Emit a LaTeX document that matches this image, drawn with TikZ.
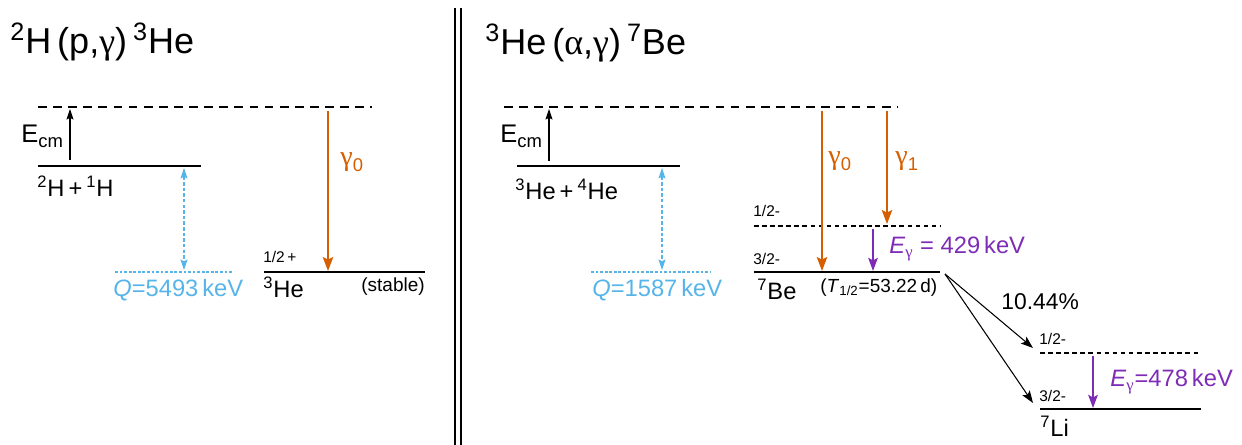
\documentclass[tikz,border=0pt]{standalone}
\usepackage{fontspec}
\setmainfont{Liberation Sans}
\newfontfamily\greekfont{Liberation Serif}
\usetikzlibrary{arrows.meta}

\definecolor{gammaorange}{RGB}{213,94,0}
\definecolor{qblue}{RGB}{86,180,233}
\definecolor{egpurple}{RGB}{126,44,182}

\newcommand{\titlesize}{\fontsize{20.5}{24}\selectfont}
\newcommand{\labsize}{\fontsize{13.5}{16}\selectfont}
\newcommand{\smallsize}{\fontsize{10.8}{13}\selectfont}
\newcommand{\spinsize}{\fontsize{8.8}{10}\selectfont}
\newcommand{\gk}[1]{{\greekfont #1}}
\newcommand{\lsub}[1]{\raisebox{-0.35ex}{\fontsize{10.5}{12}\selectfont #1}}

\tikzset{
  lab/.style={anchor=base west, inner sep=0pt, font=\labsize},
  spin/.style={anchor=base west, inner sep=0pt, font=\spinsize},
  level/.style={line width=1.2pt},
  virtlevel/.style={line width=0.7pt, dash pattern=on 5pt off 3.6pt},
  reslevel/.style={line width=0.7pt, dash pattern=on 2.6pt off 2pt},
  qlevel/.style={qblue, line width=0.8pt, dash pattern=on 1.6pt off 1pt},
  gammaarrow/.style={gammaorange, line width=0.7pt, -{Stealth[length=8pt,width=6pt,inset=1.5pt]}},
  egarrow/.style={egpurple, line width=0.7pt, -{Stealth[length=7.5pt,width=5.5pt,inset=1.5pt]}},
  qarrow/.style={qblue, line width=0.6pt, dash pattern=on 2pt off 1.2pt,
    {Stealth[length=6pt,width=4pt,inset=1pt]}-{Stealth[length=6pt,width=4pt,inset=1pt]}},
  ecmarrow/.style={line width=0.6pt, -{Stealth[length=6pt,width=4pt,inset=1pt]}},
  decayarrow/.style={line width=0.6pt, -{Stealth[length=7pt,width=5pt,inset=1.5pt]}}
}

\begin{document}
\begin{tikzpicture}[x=0.02cm, y=-0.02cm]
\useasboundingbox (0,0) rectangle (1242,445);

% separator
\draw[line width=0.8pt] (455,8) -- (455,445);
\draw[line width=0.8pt] (461,8) -- (461,445);

% ---- left: 2H(p,g)3He ----
\node[anchor=base west, inner sep=0pt, font=\titlesize] (titleL) at (10,54)
  {\textsuperscript{2}H\,(p,\gk{γ})\,\textsuperscript{3}He};

\draw[virtlevel] (38,107) -- (372,107);
\coordinate (ecmLtop) at (70,109);
\coordinate (gLtop) at (328,111);

\draw[level] (38,166) -- (201,166);
\coordinate (ecmLbot) at (70,160);
\coordinate (qLtop) at (184,168);
\node[lab] (entL) at (37,197) {\textsuperscript{2}H\,+\,\textsuperscript{1}H};
\node[lab, font=\fontsize{14.5}{16}\selectfont] (ecmL) at (21,143) {E\lsub{cm}};
\draw[ecmarrow] (ecmLbot) -- (ecmLtop);

\draw[qlevel] (115,272) -- (232,272);
\coordinate (qLbot) at (184,270);
\node[lab, text=qblue] (qL) at (113,297) {\textit{Q}=5493\,keV};
\draw[qarrow] (qLtop) -- (qLbot);

\draw[level] (264,272) -- (425,272);
\coordinate (gLbot) at (328,271);
\node[spin] (spinHe) at (263,263) {1/2\,+};
\node[lab] (he3) at (263,298) {\textsuperscript{3}He};
\node[anchor=base east, inner sep=0pt, font=\smallsize] (stab) at (425,292) {(stable)};
\draw[gammaarrow] (gLtop) -- (gLbot);
\node[lab, text=gammaorange, font=\fontsize{16}{18}\selectfont] (g0L) at (340,166) {\gk{γ}\lsub{0}};

% ---- right: 3He(a,g)7Be ----
\node[anchor=base west, inner sep=0pt, font=\titlesize] (titleR) at (485,55)
  {\textsuperscript{3}He\,(\gk{α},\gk{γ})\,\textsuperscript{7}Be};

\draw[virtlevel] (504,107) -- (898,107);
\coordinate (ecmRtop) at (549,109);
\coordinate (g0Rtop) at (822,111);
\coordinate (g1Rtop) at (887,111);

\draw[level] (517,166) -- (680,166);
\coordinate (ecmRbot) at (549,161);
\coordinate (qRtop) at (662,168);
\node[lab] (entR) at (515,200) {\textsuperscript{3}He\,+\,\textsuperscript{4}He};
\node[lab, font=\fontsize{14.5}{16}\selectfont] (ecmR) at (500,143) {E\lsub{cm}};
\draw[ecmarrow] (ecmRbot) -- (ecmRtop);

\draw[qlevel] (591,272) -- (710,272);
\coordinate (qRbot) at (662,270);
\node[lab, text=qblue] (qR) at (592,297) {\textit{Q}=1587\,keV};
\draw[qarrow] (qRtop) -- (qRbot);

% 7Be levels
\draw[reslevel] (754,226) -- (940,226);
\coordinate (g1Rbot) at (887,224);
\coordinate (egBetop) at (873,229);
\node[spin] (spinBe1) at (753,217) {1/2-};

\draw[level] (754,272) -- (940,272);
\coordinate (g0Rbot) at (822,271);
\coordinate (egBebot) at (873,271);
\coordinate (beout) at (945,274);
\node[spin] (spinBe0) at (753,265) {3/2-};
\node[lab] (be7) at (757,300) {\textsuperscript{7}Be};
\node[anchor=base west, inner sep=0pt, font=\smallsize] (thalf) at (820,293)
  {(\textit{T}\textsubscript{1/2}=53.22\,d)};

\draw[gammaarrow] (g0Rtop) -- (g0Rbot);
\draw[gammaarrow] (g1Rtop) -- (g1Rbot);
\node[lab, text=gammaorange, font=\fontsize{16}{18}\selectfont] (g0R) at (828,165) {\gk{γ}\lsub{0}};
\node[lab, text=gammaorange, font=\fontsize{16}{18}\selectfont] (g1R) at (895,165) {\gk{γ}\lsub{1}};
\draw[egarrow] (egBetop) -- (egBebot);
\node[lab, text=egpurple] (egBe) at (889,254) {\textit{E}\textsubscript{\gk{γ}} = 429\,keV};

% 7Li levels
\draw[reslevel] (1040,353) -- (1198,353);
\coordinate (liin1) at (1033,348);
\coordinate (egLitop) at (1093,356);
\node[spin] (spinLi1) at (1039,345) {1/2-};

\draw[level] (1040,409) -- (1201,409);
\coordinate (liin0) at (1033,403);
\coordinate (egLibot) at (1093,408);
\node[spin] (spinLi0) at (1039,402) {3/2-};
\node[lab] (li7) at (1040,437) {\textsuperscript{7}Li};

\draw[decayarrow] (beout) -- (liin1);
\draw[decayarrow] (beout) -- (liin0);
\node[anchor=base west, inner sep=0pt, font=\fontsize{13}{15}\selectfont] (branch) at (1001,310) {10.44\%};
\draw[egarrow] (egLitop) -- (egLibot);
\node[lab, text=egpurple] (egLi) at (1110,387) {\textit{E}\textsubscript{\gk{γ}}=478\,keV};

\end{tikzpicture}
\end{document}
